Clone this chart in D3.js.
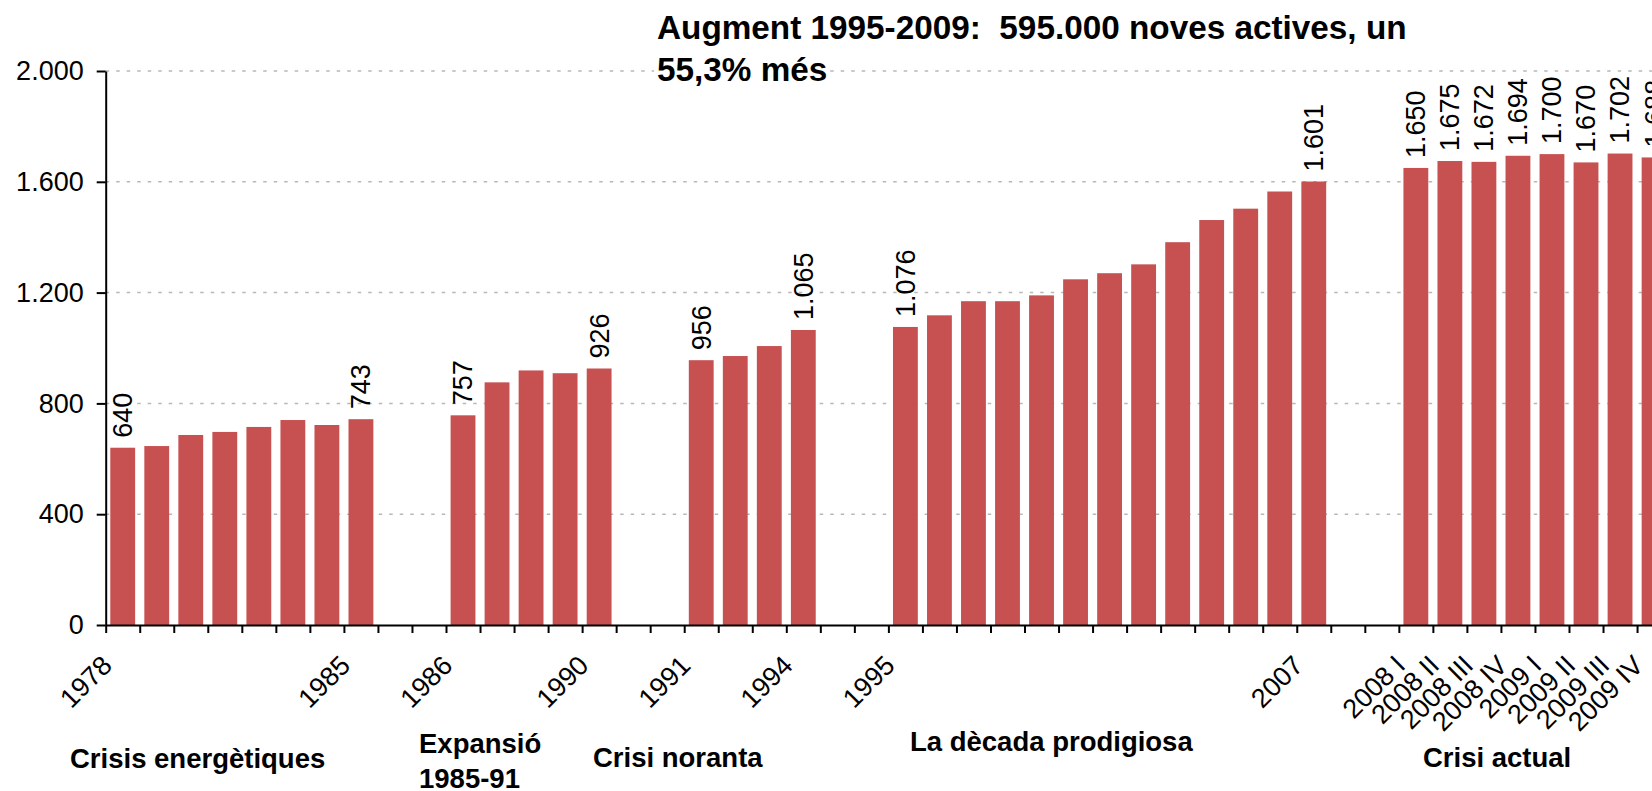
<!DOCTYPE html>
<html>
<head>
<meta charset="utf-8">
<script src="https://cdn.jsdelivr.net/npm/d3@7"></script>
<style>
    body { margin: 0; background: #fff; }
    svg text { font-family: "Liberation Sans", Arial, sans-serif; fill: #000; }
</style>
</head>
<body>
<div id="chart"></div>
<script>
(function() {
    // Data (thousands of active people)
    var categories = ["1978", "1979", "1980", "1981", "1982", "1983", "1984", "1985",
        "1986", "1987", "1988", "1989", "1990",
        "1991", "1992", "1993", "1994",
        "1995", "1996", "1997", "1998", "1999", "2000", "2001", "2002", "2003", "2004", "2005", "2006", "2007",
        "2008 I", "2008 II", "2008 III", "2008 IV", "2009 I", "2009 II", "2009 III", "2009 IV"];
    var values = [640, 646, 686, 697, 715, 740, 722, 743,
        757, 876, 919, 909, 926,
        956, 971, 1007, 1065,
        1076, 1118, 1169, 1169, 1190, 1248, 1270, 1302, 1382, 1462, 1503, 1565, 1601,
        1650, 1675, 1672, 1694, 1700, 1670, 1702, 1688];
    var tickLabels = ["1978", "", "", "", "", "", "", "1985",
        "1986", "", "", "", "1990",
        "1991", "", "", "1994",
        "1995", "", "", "", "", "", "", "", "", "", "", "", "2007",
        "2008 I", "2008 II", "2008 III", "2008 IV", "2009 I", "2009 II", "2009 III", "2009 IV"];
    var labelledBars = ["1978", "1985", "1986", "1990", "1991", "1994", "1995", "2007",
        "2008 I", "2008 II", "2008 III", "2008 IV", "2009 I", "2009 II", "2009 III", "2009 IV"];
    var groupNames = [["Crisis energètiques"], ["Expansió", "1985-91"], ["Crisi noranta"],
        ["La dècada prodigiosa"], ["Crisi actual"]];
    var groupSizes = [8, 5, 4, 13, 8];
    var yTicks = [0, 400, 800, 1200, 1600, 2000];
    var titleLines = ["Augment 1995-2009:  595.000 noves actives, un", "55,3% més"];

    // Layout
    var margin = { top: 71, left: 105.7 },
        slot = 34.03,
        gapSlots = 2,
        height = 554,
        barColor = "#c75151";
    var groupLabelX = [70, 419, 593, 910, 1423],
        groupLabelY = [768, 753, 767, 751, 767];

    // Build the slot domain: each group followed by two empty slots
    var slots = [], start = 0;
    groupSizes.forEach(function(n, i) {
        categories.slice(start, start + n).forEach(function(c) { slots.push(c); });
        start += n;
        if (i < groupSizes.length - 1) {
            for (var g = 0; g < gapSlots; g++) slots.push("gap" + i + "_" + g);
        }
    });
    var width = slots.length * slot;

    var svg = d3.select("#chart")
        .append("svg")
        .attr("width", 1652)
        .attr("height", 791)
        .style("display", "block");

    var g = svg.append("g")
        .attr("transform", "translate(" + margin.left + "," + margin.top + ")");

    var x = d3.scaleBand().domain(slots).range([0, width])
        .paddingInner(0.27).paddingOuter(0.135);
    var y = d3.scaleLinear().domain([0, 2000]).range([height, 0]);
    var boundary = d3.scaleLinear().domain([0, slots.length]).range([0, width]);

    var locale = d3.formatLocale({ decimal: ",", thousands: ".", grouping: [3], currency: ["", ""] });
    var fmt = locale.format(",d");

    // Dashed gridlines
    g.selectAll(".grid")
        .data(yTicks.filter(function(d) { return d > 0; }))
        .enter().append("line")
        .attr("class", "grid")
        .attr("x1", 0)
        .attr("x2", width)
        .attr("y1", function(d) { return y(d); })
        .attr("y2", function(d) { return y(d); })
        .attr("stroke", "#b8b8b8")
        .attr("stroke-width", 1.5)
        .attr("stroke-dasharray", "3.5,7");

    // Bars
    var data = categories.map(function(c, i) { return { cat: c, value: values[i], tick: tickLabels[i] }; });

    g.selectAll(".bar")
        .data(data)
        .enter().append("rect")
        .attr("class", "bar")
        .attr("x", function(d) { return x(d.cat); })
        .attr("width", x.bandwidth())
        .attr("y", function(d) { return y(d.value); })
        .attr("height", function(d) { return height - y(d.value); })
        .attr("fill", barColor);

    // Value labels
    g.selectAll(".value")
        .data(data.filter(function(d) { return labelledBars.indexOf(d.cat) >= 0; }))
        .enter().append("text")
        .attr("class", "value")
        .attr("transform", function(d) {
            return "translate(" + (x(d.cat) + x.bandwidth() / 2) + "," + (y(d.value) - 10) + ") rotate(-90)";
        })
        .attr("dy", "0.35em")
        .style("font-size", "27px")
        .text(function(d) { return fmt(d.value); });

    // Y axis
    var yAxis = d3.axisLeft(y).tickValues(yTicks).tickSize(9).tickSizeOuter(0)
        .tickPadding(13).tickFormat(fmt);
    var yg = g.append("g").call(yAxis);
    yg.select(".domain").attr("stroke", "#000").attr("stroke-width", 2);
    yg.selectAll(".tick line").attr("stroke", "#000").attr("stroke-width", 2);
    yg.selectAll(".tick text").style("font-size", "27px").attr("font-family", null);

    // X axis: ticks between every slot
    var xAxis = d3.axisBottom(boundary).tickValues(d3.range(slots.length + 1))
        .tickSize(8).tickSizeOuter(0).tickFormat("");
    var xg = g.append("g").attr("transform", "translate(0," + height + ")").call(xAxis);
    xg.select(".domain").attr("stroke", "#000").attr("stroke-width", 2);
    xg.selectAll(".tick line").attr("stroke", "#000").attr("stroke-width", 2);

    // Category labels
    g.selectAll(".cat")
        .data(data.filter(function(d) { return d.tick !== ""; }))
        .enter().append("text")
        .attr("class", "cat")
        .attr("transform", function(d) {
            return "translate(" + (x(d.cat) + x.bandwidth() / 2 - 9) + "," + (height + 42) + ") rotate(-45)";
        })
        .attr("text-anchor", "end")
        .style("font-size", "27px")
        .text(function(d) { return d.tick; });

    // Group labels under the axis
    groupNames.forEach(function(lines, i) {
        var t = svg.append("text")
            .attr("x", groupLabelX[i])
            .attr("y", groupLabelY[i])
            .style("font-size", "27.5px")
            .style("font-weight", "bold");
        lines.forEach(function(l, j) {
            t.append("tspan").attr("x", groupLabelX[i]).attr("dy", j === 0 ? 0 : 35).text(l);
        });
    });

    // Title
    titleLines.forEach(function(l, i) {
        var t = svg.append("text")
            .attr("x", 657)
            .attr("y", 39 + i * 42)
            .style("font-size", "33.3px")
            .style("font-weight", "bold")
            .style("white-space", "pre")
            .text(l);
        if (i === 1) {
            var b = t.node().getBBox();
            svg.insert("rect", function() { return t.node(); })
                .attr("x", b.x - 3).attr("y", 66).attr("width", b.width + 4).attr("height", 10)
                .attr("fill", "#fff");
        }
    });
})();
</script>
</body>
</html>
